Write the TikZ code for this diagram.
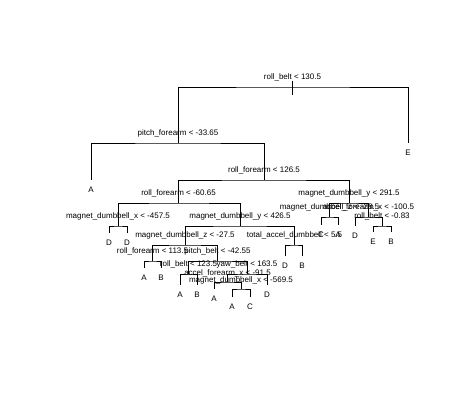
\documentclass[tikz,border=0pt]{standalone}
\usepackage{fontspec}
\setmainfont{Liberation Sans}
\begin{document}
\begin{tikzpicture}[x=1pt,y=-1pt,
  br/.style={line width=0.8pt, black},
  lab/.style={font=\fontsize{8}{9}\selectfont, inner sep=0pt, text=black},
  leaflab/.style={font=\fontsize{8}{9}\selectfont, inner sep=0pt, text=black}]
\useasboundingbox (0,0) rectangle (462,403);
\fill[white] (0,0) rectangle (462,403);
% node positions
\coordinate (n1) at (292.5,87);
\coordinate (rt) at (292.5,81);
\coordinate (rb) at (292.5,95);
\coordinate (n2) at (178,143);
\coordinate (n3) at (408,143);
\coordinate (n4) at (91,180);
\coordinate (n5) at (264,180);
\coordinate (n10) at (178.5,203);
\coordinate (n11) at (349,203);
\coordinate (n20) at (118,226);
\coordinate (n21) at (240,226);
\coordinate (n40) at (109,233);
\coordinate (n41) at (127,233);
\coordinate (n22) at (329.5,217);
\coordinate (n23) at (368.5,217);
\coordinate (n44) at (321,225);
\coordinate (n45) at (338,225);
\coordinate (n46) at (355,226);
\coordinate (n47) at (382,226);
\coordinate (n94) at (373,232);
\coordinate (n95) at (391,232);
\coordinate (n42) at (185,245);
\coordinate (n43) at (294.5,245);
\coordinate (n86) at (285,256);
\coordinate (n87) at (302,256);
\coordinate (n84) at (152.5,261);
\coordinate (n85) at (217.5,261);
\coordinate (n168) at (144,268);
\coordinate (n169) at (161,268);
\coordinate (n170) at (188.5,274);
\coordinate (n171) at (247,274);
\coordinate (n340) at (180,285);
\coordinate (n341) at (197,285);
\coordinate (n342) at (227.5,282);
\coordinate (n343) at (267,285);
\coordinate (n684) at (214,289);
\coordinate (n685) at (241,289);
\coordinate (n1370) at (232,297);
\coordinate (n1371) at (250,297);
% branches
\draw[br] (rt) -- (rb);
\draw[br] (n2) |- (n1) -| (n3);
\draw[br] (n4) |- (n2) -| (n5);
\draw[br] (n10) |- (n5) -| (n11);
\draw[br] (n20) |- (n10) -| (n21);
\draw[br] (n40) |- (n20) -| (n41);
\draw[br] (n42) |- (n21) -| (n43);
\draw[br] (n22) |- (n11) -| (n23);
\draw[br] (n44) |- (n22) -| (n45);
\draw[br] (n46) |- (n23) -| (n47);
\draw[br] (n94) |- (n47) -| (n95);
\draw[br] (n86) |- (n43) -| (n87);
\draw[br] (n84) |- (n42) -| (n85);
\draw[br] (n168) |- (n84) -| (n169);
\draw[br] (n170) |- (n85) -| (n171);
\draw[br] (n340) |- (n170) -| (n341);
\draw[br] (n342) |- (n171) -| (n343);
\draw[br] (n684) |- (n342) -| (n685);
\draw[br] (n1370) |- (n685) -| (n1371);
% split labels
\node[lab] (l1) at ([yshift=10pt]n1) {roll\_belt < 130.5};
\node[lab] (l2) at ([yshift=10pt]n2) {pitch\_forearm < -33.65};
\node[lab] (l5) at ([yshift=10pt]n5) {roll\_forearm < 126.5};
\node[lab] (l10) at ([yshift=10pt]n10) {roll\_forearm < -60.65};
\node[lab] (l11) at ([yshift=10pt]n11) {magnet\_dumbbell\_y < 291.5};
\node[lab] (l20) at ([yshift=10pt]n20) {magnet\_dumbbell\_x < -457.5};
\node[lab] (l21) at ([yshift=10pt]n21) {magnet\_dumbbell\_y < 426.5};
\node[lab] (l22) at ([yshift=10pt]n22) {magnet\_dumbbell\_z < -28.5};
\node[lab] (l23) at ([yshift=10pt]n23) {accel\_forearm\_x < -100.5};
\node[lab] (l47) at ([yshift=10pt]n47) {roll\_belt < -0.83};
\node[lab] (l42) at ([yshift=10pt]n42) {magnet\_dumbbell\_z < -27.5};
\node[lab] (l43) at ([yshift=10pt]n43) {total\_accel\_dumbbell < 5.5};
\node[lab] (l84) at ([yshift=10pt]n84) {roll\_forearm < 113.5};
\node[lab] (l85) at ([yshift=10pt]n85) {pitch\_belt < -42.55};
\node[lab] (l170) at ([yshift=10pt]n170) {roll\_belt < 123.5};
\node[lab] (l171) at ([yshift=10pt]n171) {yaw\_belt < 163.5};
\node[lab] (l342) at ([yshift=9pt]n342) {accel\_forearm\_x < -91.5};
\node[lab] (l685) at ([yshift=9pt]n685) {magnet\_dumbbell\_x < -569.5};
% leaf labels
\node[leaflab] (e3) at ([yshift=-10pt]n3) {E};
\node[leaflab] (e4) at ([yshift=-10pt]n4) {A};
\node[leaflab] (e40) at ([yshift=-10pt]n40) {D};
\node[leaflab] (e41) at ([yshift=-10pt]n41) {D};
\node[leaflab] (e44) at ([yshift=-10pt]n44) {C};
\node[leaflab] (e45) at ([yshift=-10pt]n45) {A};
\node[leaflab] (e46) at ([yshift=-10pt]n46) {D};
\node[leaflab] (e94) at ([yshift=-10pt]n94) {E};
\node[leaflab] (e95) at ([yshift=-10pt]n95) {B};
\node[leaflab] (e86) at ([yshift=-10pt]n86) {D};
\node[leaflab] (e87) at ([yshift=-10pt]n87) {B};
\node[leaflab] (e168) at ([yshift=-10pt]n168) {A};
\node[leaflab] (e169) at ([yshift=-10pt]n169) {B};
\node[leaflab] (e340) at ([yshift=-10pt]n340) {A};
\node[leaflab] (e341) at ([yshift=-10pt]n341) {B};
\node[leaflab] (e343) at ([yshift=-10pt]n343) {D};
\node[leaflab] (e684) at ([yshift=-10pt]n684) {A};
\node[leaflab] (e1370) at ([yshift=-10pt]n1370) {A};
\node[leaflab] (e1371) at ([yshift=-10pt]n1371) {C};
\end{tikzpicture}
\end{document}
